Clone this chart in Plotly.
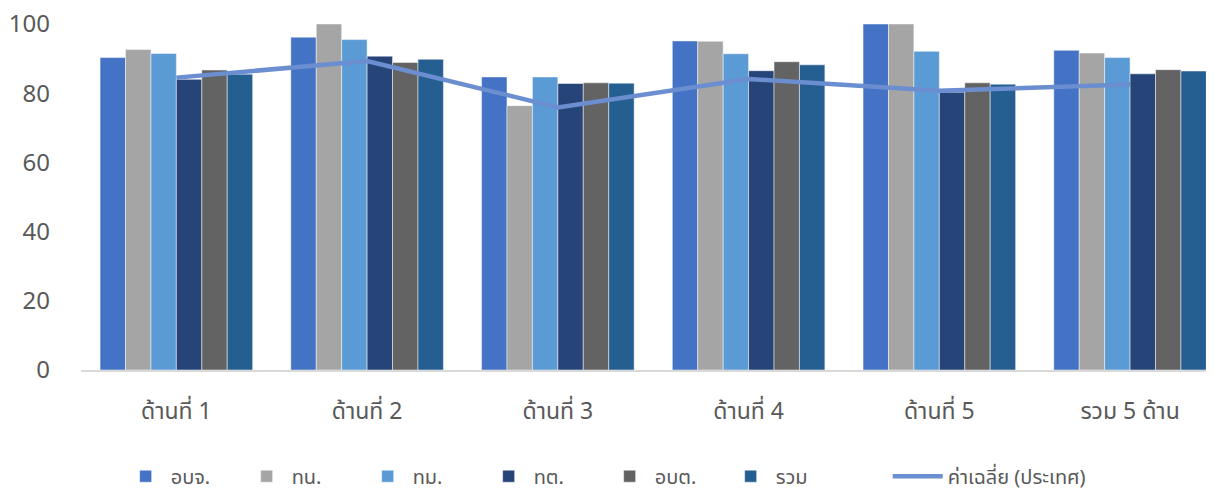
import plotly.graph_objects as go

categories = ["ด้านที่ 1", "ด้านที่ 2", "ด้านที่ 3", "ด้านที่ 4", "ด้านที่ 5", "รวม 5 ด้าน"]
series_names = ["อบจ.", "ทน.", "ทม.", "ทต.", "อบต.", "รวม"]
v_obj = [90.3, 96.2, 84.7, 95.1, 100.0, 92.4]
v_tn = [92.6, 100.0, 76.4, 95.0, 100.0, 91.6]
v_tm = [91.5, 95.5, 84.7, 91.4, 92.1, 90.3]
v_tt = [84.0, 90.7, 82.8, 86.5, 80.3, 85.6]
v_obt = [86.7, 88.9, 83.0, 89.1, 83.0, 86.8]
v_total = [85.5, 89.8, 82.9, 88.2, 82.6, 86.4]
line_name = "ค่าเฉลี่ย (ประเทศ)"
v_avg = [84.5, 89.3, 75.9, 84.1, 80.7, 82.5]
y_ticks = [0, 20, 40, 60, 80, 100]

colors = ["#4472C4", "#A5A5A5", "#5B9BD5", "#264478", "#636363", "#255E91"]
series_vals = [v_obj, v_tn, v_tm, v_tt, v_obt, v_total]

fig = go.Figure()
for name, vals, c in zip(series_names, series_vals, colors):
    fig.add_trace(go.Bar(x=categories, y=vals, name=name, marker_color=c,
                         marker_line=dict(color="rgba(255,255,255,0.6)", width=0.8),
                         legend="legend"))
fig.add_trace(go.Scatter(x=categories, y=v_avg, name=line_name, mode="lines",
                         line=dict(color="#6A8ED0", width=4.5), legend="legend2"))

font_family = "Noto Sans Thai, Tahoma, Noto Sans, sans-serif"
fig.update_layout(
    width=1206, height=485,
    margin=dict(l=73, r=0, t=16, b=123, autoexpand=False),
    plot_bgcolor="white", paper_bgcolor="white",
    barmode="group", bargap=0.2, bargroupgap=0,
    font=dict(family=font_family, color="#595959", size=20),
    showlegend=True,
    legend=dict(orientation="h", x=0.035, xanchor="left", y=-0.307, yanchor="middle",
                font=dict(size=20, color="#595959"), traceorder="normal",
                itemwidth=40, entrywidth=66),
    legend2=dict(orientation="h", x=0.712, xanchor="left", y=-0.307, yanchor="middle",
                 font=dict(size=20, color="#595959"), itemwidth=50),
)
fig.update_xaxes(range=[-0.5, 5.44], showgrid=False, showline=True, linecolor="#D9D9D9",
                 linewidth=1.5, ticks="", ticklabelstandoff=20,
                 tickfont=dict(size=23, color="#595959"))
fig.update_yaxes(range=[0, 100], tickvals=y_ticks, showgrid=False, zeroline=False,
                 showline=False, ticks="", ticklabelstandoff=30,
                 ticklabeloverflow="allow",
                 tickfont=dict(size=24, color="#595959"))

fig.write_html("out.html")
